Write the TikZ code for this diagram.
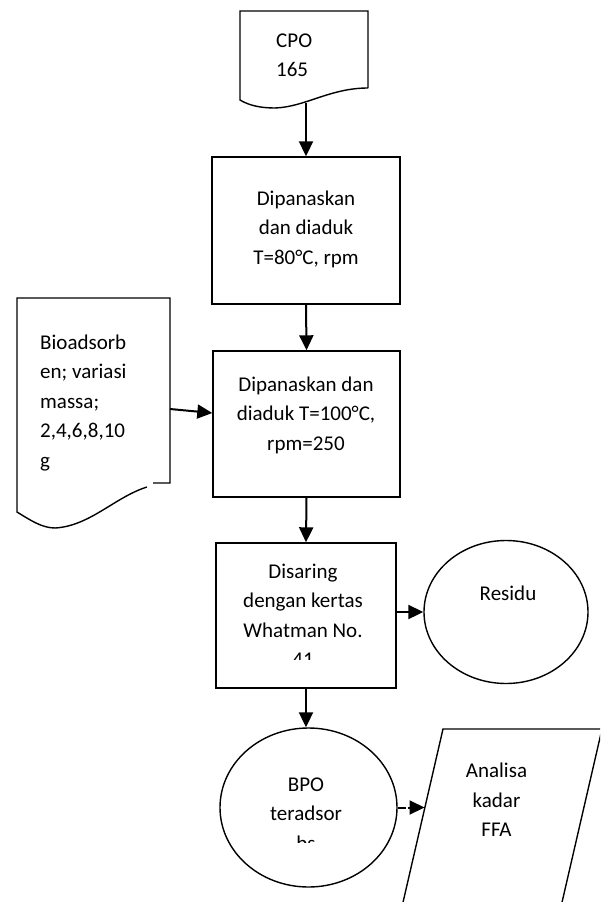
\documentclass[tikz,border=0pt]{standalone}
\usepackage{fontspec}
\setmainfont{Carlito}
\usetikzlibrary{arrows.meta,shapes.geometric}
\begin{document}
\begin{tikzpicture}[x=1pt,y=-1pt,
  outline/.style={draw=black,line width=1.4pt},
  box/.style={outline,rectangle,inner sep=0pt},
  oval/.style={outline,ellipse,inner sep=0pt},
  txt/.style={font=\fontsize{21}{29.5}\selectfont,inner sep=0pt,anchor=base,align=center},
  ltxt/.style={txt,anchor=base west,align=left},
  link/.style={line width=2pt},
  flow/.style={link,-{Triangle[length=15pt,width=14pt]}}]
\useasboundingbox (0,0) rectangle (600,902);
\clip (0,0) rectangle (600,902);

% CPO document
\draw[outline] (368,88) -- (368,11) -- (240,11) -- (240,100)
  .. controls (250,106) and (262,108) .. (275,108)
  .. controls (305,107) and (330,88) .. (368,88);
\node[ltxt] (tcpo) at (276,76.5) {CPO\\165};
\coordinate (cpob) at (306,103);

% process boxes
\node[box,minimum width=188pt,minimum height=147pt] (b1) at (306,230.5) {};
\node[txt] (t1) at (306,264) {Dipanaskan\\dan diaduk\\T=80°C, rpm};

\node[box,minimum width=187pt,minimum height=146pt] (b2) at (306.5,424) {};
\node[txt] (t2) at (306,450) {Dipanaskan dan\\diaduk T=100°C,\\rpm=250};

\node[box,minimum width=180pt,minimum height=145pt] (b3) at (306,615.5) {};
\begin{scope}
  \clip (218,545) rectangle (394,659);
  \node[txt] (t3) at (303,666.5) {Disaring\\dengan kertas\\Whatman No.\\41};
\end{scope}

% Bioadsorben document
\draw[outline] (153,483) -- (170,483) -- (170,298) -- (17,298) -- (17,512)
  .. controls (30,520) and (42,528) .. (55,528)
  .. controls (90,526) and (115,497) .. (147,487);
\node[ltxt] (tbio) at (40,467) {Bioadsorb\\en; variasi\\massa;\\2,4,6,8,10\\g};
\coordinate (bior) at (170,409);

% Residu
\node[oval,minimum width=164pt,minimum height=143pt] (res) at (506,612) {};
\node[txt] (tres) at (508,600) {Residu};

% BPO teradsorbs
\node[oval,minimum width=177pt,minimum height=159pt] (bpo) at (308.5,807.5) {};
\begin{scope}
  \clip (220,729) rectangle (397,842);
  \node[txt] (tbpo) at (306,850) {BPO\\teradsor\\bs};
\end{scope}

% Analisa (parallelogram)
\draw[outline] (443,729) -- (602,729) -- (551,950) -- (392,950) -- cycle;
\node[txt] (tan) at (496.5,836.5) {Analisa\\kadar\\FFA};
\coordinate (anl) at (424.5,809);

% connectors
\draw[flow] (cpob) -- (b1.north);
\draw[flow] (b1.south) -- (b2.north);
\draw[flow] (bior) -- ([yshift=11pt]b2.west);
\draw[flow] (b2.south) -- (b3.north);
\draw[flow] (b3.east |- res.west) -- (res.west);
\draw[flow] (b3.south) -- (b3.south |- bpo.north);
\draw[link] (bpo.east) -- ++(8,0);
\draw[flow] ([xshift=10pt]bpo.east) -- (anl |- bpo.east);
\end{tikzpicture}
\end{document}
